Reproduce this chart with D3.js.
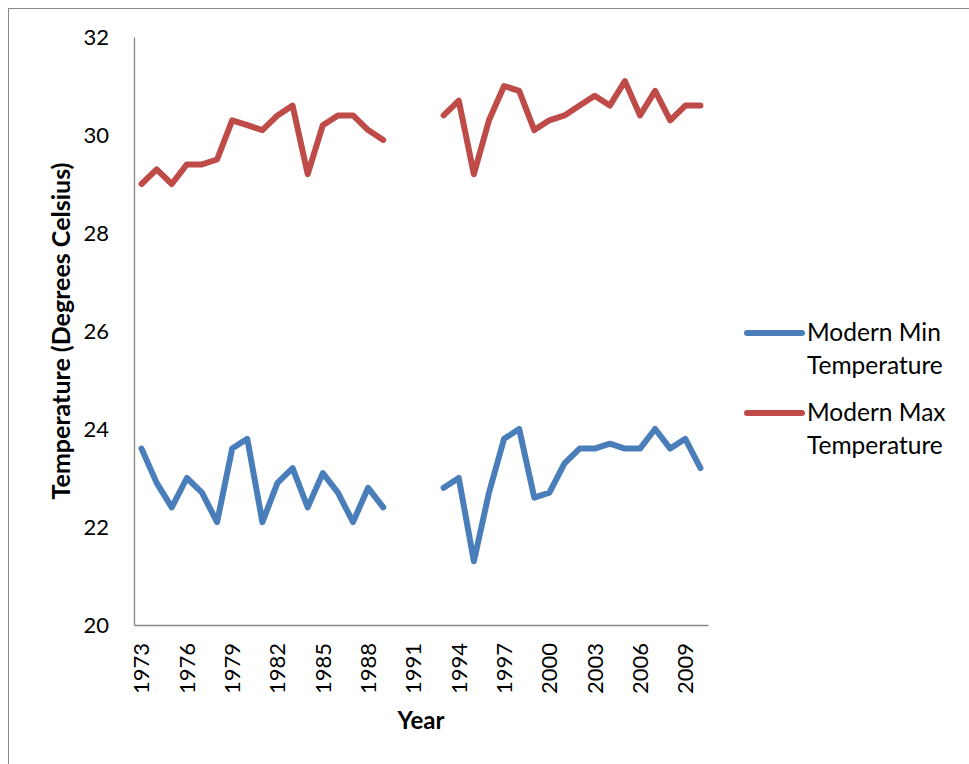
<!DOCTYPE html>
<html>
<head>
<meta charset="utf-8">
<script src="https://cdn.jsdelivr.net/npm/d3@7"></script>
<style>
  body { margin: 0; background: #fff; }
  svg { display: block; font-family: Lato, "Open Sans", sans-serif; }
</style>
</head>
<body>
<svg width="969" height="764"></svg>
<script>
const years = d3.range(1973, 2011);
const minTemp = [23.6, 22.9, 22.4, 23.0, 22.7, 22.1, 23.6, 23.8, 22.1, 22.9, 23.2, 22.4, 23.1, 22.7, 22.1, 22.8, 22.4,
  null, null, null,
  22.8, 23.0, 21.3, 22.7, 23.8, 24.0, 22.6, 22.7, 23.3, 23.6, 23.6, 23.7, 23.6, 23.6, 24.0, 23.6, 23.8, 23.2];
const maxTemp = [29.0, 29.3, 29.0, 29.4, 29.4, 29.5, 30.3, 30.2, 30.1, 30.4, 30.6, 29.2, 30.2, 30.4, 30.4, 30.1, 29.9,
  null, null, null,
  30.4, 30.7, 29.2, 30.3, 31.0, 30.9, 30.1, 30.3, 30.4, 30.6, 30.8, 30.6, 31.1, 30.4, 30.9, 30.3, 30.6, 30.6];
const yTicks = [20, 22, 24, 26, 28, 30, 32];
const xTicks = years.filter((d, i) => i % 3 === 0);

const series = [
  { name: ["Modern Min", "Temperature"], values: minTemp, color: "#4a7ebb" },
  { name: ["Modern Max", "Temperature"], values: maxTemp, color: "#be4b48" }
];

const svg = d3.select("svg");

// outer frame, only left and top edges are in view
svg.append("rect")
  .attr("x", 8.5)
  .attr("y", 8.5)
  .attr("width", 1200)
  .attr("height", 1200)
  .attr("fill", "none")
  .attr("stroke", "#888");

const x = d3.scaleBand()
  .domain(years)
  .range([134, 708])
  .padding(0);

const y = d3.scaleLinear()
  .domain([20, 32])
  .range([625, 37]);

const cx = d => x(d) + x.bandwidth() / 2;

svg.append("g")
  .attr("class", "y-axis")
  .attr("transform", "translate(134,0)")
  .call(d3.axisLeft(y).tickValues(yTicks).tickSize(0).tickPadding(25))
  .attr("font-family", null)
  .call(g => g.select(".domain").attr("stroke", "#868686").attr("stroke-width", 1.3))
  .call(g => g.selectAll("text")
    .style("font-size", "22px")
    .style("fill", "#000"));

svg.append("g")
  .attr("class", "x-axis")
  .attr("transform", "translate(0,625)")
  .call(d3.axisBottom(x).tickValues(xTicks).tickSize(0))
  .attr("font-family", null)
  .call(g => g.select(".domain").attr("stroke", "#868686").attr("stroke-width", 1.3))
  .call(g => g.selectAll("text")
    .attr("transform", "translate(0,18) rotate(-90)")
    .attr("x", 0)
    .attr("y", 0)
    .attr("dy", "0.36em")
    .style("text-anchor", "end")
    .style("font-size", "22px")
    .style("fill", "#000"));

const line = d3.line()
  .defined(d => d.v !== null)
  .x(d => cx(d.year))
  .y(d => y(d.v));

svg.append("g")
  .attr("class", "lines")
  .selectAll("path")
  .data(series)
  .enter()
  .append("path")
  .attr("d", s => line(years.map((yr, i) => ({ year: yr, v: s.values[i] }))))
  .attr("fill", "none")
  .attr("stroke", s => s.color)
  .attr("stroke-width", 6)
  .attr("stroke-linejoin", "round")
  .attr("stroke-linecap", "round");

svg.append("text")
  .attr("transform", "translate(70,331) rotate(-90)")
  .style("text-anchor", "middle")
  .style("font-weight", "700")
  .style("font-size", "25px")
  .text("Temperature (Degrees Celsius)");

svg.append("text")
  .attr("x", 421)
  .attr("y", 729)
  .style("text-anchor", "middle")
  .style("font-weight", "700")
  .style("font-size", "24px")
  .text("Year");

const legend = svg.append("g")
  .attr("class", "legend")
  .selectAll("g")
  .data(series)
  .enter()
  .append("g")
  .attr("transform", (d, i) => `translate(747,${333 + i * 80})`);

legend.append("line")
  .attr("x1", 0)
  .attr("x2", 55)
  .attr("stroke", d => d.color)
  .attr("stroke-width", 6)
  .attr("stroke-linecap", "round");

legend.append("text")
  .style("font-size", "24.5px")
  .selectAll("tspan")
  .data(d => d.name)
  .enter()
  .append("tspan")
  .attr("x", 60)
  .attr("y", (d, i) => 8 + i * 33)
  .text(d => d);
</script>
</body>
</html>
